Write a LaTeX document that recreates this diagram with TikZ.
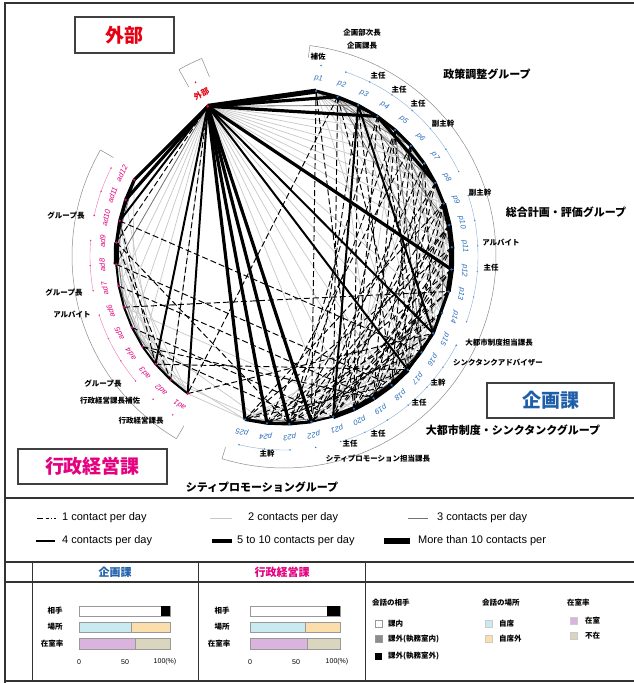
\documentclass[tikz,border=0pt]{standalone}
\usepackage{fontspec}
\setmainfont{Noto Sans CJK JP}
\newfontfamily\lat{Liberation Sans}
\usetikzlibrary{calc}
\definecolor{kblue}{RGB}{31,95,170}
\definecolor{kmag}{RGB}{228,0,127}
\definecolor{kred}{RGB}{230,0,18}
\definecolor{pblue}{RGB}{40,110,190}
\definecolor{bcyan}{RGB}{200,234,240}
\definecolor{borange}{RGB}{252,222,172}
\definecolor{blav}{RGB}{218,180,222}
\definecolor{bkhaki}{RGB}{218,213,190}
\tikzset{
 w1/.style={black, line width=0.95pt, dash pattern=on 6pt off 3pt},
 w2/.style={black!22, line width=0.7pt},
 w3/.style={black!55, line width=0.8pt},
 w4/.style={black, line width=2pt},
 w5/.style={black, line width=3.2pt},
 w6/.style={black, line width=5pt},
 role/.style={font=\fontsize{7.5}{8}\selectfont\bfseries, inner sep=0pt},
 grp/.style={font=\fontsize{11}{12}\selectfont\bfseries, inner sep=0pt},
 plab/.style={font=\lat\itshape\fontsize{7.6}{9}\selectfont, text=pblue, inner sep=0pt},
 alab/.style={font=\lat\itshape\fontsize{7.6}{9}\selectfont, text=kmag, inner sep=0pt},
 titlebox/.style={draw=black!75, line width=1.4pt, inner sep=0pt, font=\fontsize{19}{20}\selectfont\bfseries},
 legtxt/.style={font=\lat\fontsize{11}{12}\selectfont, anchor=west, inner sep=0pt},
 bracket/.style={black!45, line width=0.5pt},
 rowlab/.style={font=\fontsize{7.5}{8}\selectfont\bfseries, inner sep=0pt},
 axlab/.style={font=\lat\fontsize{7}{8}\selectfont, inner sep=0pt},
 bar/.style={draw=black!40, line width=0.4pt},
 frame/.style={black!80, line width=1.4pt},
}
\begin{document}
\begin{tikzpicture}[x=1pt,y=-1pt]
\useasboundingbox (0,0) rectangle (634,683);
\fill[white] (0,0) rectangle (634,683);

% ---------- node positions ----------
\coordinate (ext) at ({284+168*cos(117)},{256-168*sin(117)});
\foreach \i in {1,...,25}{
  \pgfmathsetmacro\ang{79-7.6*(\i-1)}
  \coordinate (p\i) at ({284+168*cos(\ang)},{256-168*sin(\ang)});
}
\foreach \i in {1,...,12}{
  \pgfmathsetmacro\ang{235-7.45*(\i-1)}
  \coordinate (ad\i) at ({284+168*cos(\ang)},{256-168*sin(\ang)});
}

% ---------- edges ----------
\foreach \a/\b in {ext/p4,ext/p5,ext/p6,ext/p7,ext/p8,ext/p9,ext/p10,ext/p11,ext/p14,ext/p16,ext/p18,ext/p19,ext/p20,ext/p21,
  ext/ad2,ext/ad4,ext/ad5,ext/ad6,ext/ad7,
  p1/p5,p1/p7,p1/p9,p1/p11,p1/p13,p2/p6,p2/p10,p2/p12,p3/p7,p3/p9,p3/p11,p3/p14,p4/p10,p4/p12,p5/p9,p5/p13,
  p6/p12,p6/p14,p7/p13,p8/p12,p8/p14,p9/p15,p10/p16,p11/p17,p12/p18,p13/p19,p14/p20,p15/p21,p16/p22,p17/p23,
  p15/p25,p16/p24,p17/p25,p18/p22,p19/p24,p14/p25,p13/p21,p12/p22,p11/p23,p10/p24,
  p1/p17,p2/p19,p3/p16,p5/p20,p7/p21,p1/p4,p2/p5,p6/p9,p7/p10,p8/p11,
  ad1/ad5,ad1/ad7,ad2/ad6,ad2/ad8,ad3/ad7,ad3/ad9,ad4/ad8,ad4/ad10,ad5/ad9,ad6/ad10,ad1/ad9,ad2/ad10,
  ad1/p25,ad2/p24,ad3/p25,ad5/p24,ad6/p20,ad3/ad11,ad5/ad12}
  \draw[w2] (\a) -- (\b);
\foreach \a/\b in {ext/p3,ext/ad8,p1/p6,p2/p8,p4/p8,p9/p14,p15/p18,p17/p20,p21/p24,p22/p25,ad1/ad3,ad4/ad7,
  ad8/ad11,ad9/ad12,p5/p16,p7/p17,p3/p10,p5/p11,p2/p13,ad2/ad5,ad6/ad9}
  \draw[w3] (\a) -- (\b);
\foreach \a/\b in {p1/p22,p2/ad1,ad1/p15,ad5/p21,ad7/p19,ad9/p23,p3/p18,p4/p20,p5/p23,p6/p24,p7/p19,p8/p21,p9/p22,
  p10/p20,p11/p19,p12/p24,p13/p23,p14/p22,p16/p25,p2/p17,p6/p16,p8/p18,p9/p19,p4/p16,p3/p22,p10/p23,p11/p25,
  p12/p21,p5/p19,ad3/p17,ad4/p22,ad6/p13,ext/ad9,
  p1/p20,p2/p21,p3/p20,p4/p23,p5/p21,p6/p20,p7/p22,p8/p23,p9/p25,p10/p22,p11/p21,p12/p20,p13/p22,p14/p24,
  p15/p23,p16/p20,p17/p24,p18/p25,p6/p18,p7/p15,p5/p17,p9/p17,p10/p18,ad10/p16,ad8/p18,ad4/p19,
  ad10/ad3,ad9/ad2,ext/ad2}
  \draw[w1] (\a) -- (\b);
\foreach \a/\b in {ext/p15,ext/p17,ext/ad10,ext/ad3,ext/ad1,p3/p15,p3/p21,p15/p16,p16/p17,
  p21/p22,ad1/ad2,ad2/ad3,ad3/ad4,ad4/ad5,ad5/ad6,ad6/ad7,ad7/ad8,p1/p3,p2/p4,ad10/ad12,ad9/ad11}
  \draw[w4] (\a) -- (\b);
\foreach \a/\b in {ext/p2,ext/p4,ext/p12,ext/p22,ext/p23,ext/p24,ext/p25,ext/ad12,ext/ad11,p1/p2,p2/p3,p3/p4,p4/p5,p5/p6,p6/p7,
  p7/p8,p8/p9,p22/p23,p23/p24,p24/p25,p13/p15,p15/p17,ad9/ad10,ad10/ad11,ad11/ad12,p4/p8}
  \draw[w5] (\a) -- (\b);
\foreach \a/\b in {ext/p1,p9/p10,p10/p11,p11/p12,p12/p13,p17/p18,p18/p19,p19/p20,p20/p21,ad8/ad9}
  \draw[w6] (\a) -- (\b);

% ---------- node dots and labels ----------
\foreach \i in {1,...,25}{
  \pgfmathsetmacro\ang{79-7.6*(\i-1)}
  \fill[pblue] (p\i) circle (1.3);
  \node[plab, rotate=\ang-90] at ({284+181*cos(\ang)},{256-181*sin(\ang)}) {p\i};
  \fill[pblue] ({284+194*cos(\ang)},{256-194*sin(\ang)}) circle (0.8);
}
\foreach \i in {1,...,12}{
  \pgfmathsetmacro\ang{235-7.45*(\i-1)}
  \fill[kmag] (ad\i) circle (1.3);
  \node[alab, rotate=\ang-90] at ({284+182*cos(\ang)},{256-182*sin(\ang)}) {ad\i};
  \fill[kmag] ({284+194*cos(\ang)},{256-194*sin(\ang)}) circle (0.8);
}
\fill[kred] (ext) circle (1.6);
\node[font=\fontsize{8}{9}\selectfont\bfseries, text=kred, rotate=27, inner sep=0pt] at ({284+182*cos(117)},{256-182*sin(117)}) {外部};
\fill[kred] ({284+195*cos(117)},{256-195*sin(117)}) circle (0.8);

% ---------- inner group arcs ----------
\foreach \s/\e in {71.4/25.8, 18.2/-19.8, -27.4/-73, -88.2/-103.4}
  \draw[pblue!55, line width=0.4pt] plot[domain=\s:\e, samples=40] ({284+194*cos(\x)},{256-194*sin(\x)});
\foreach \s/\e in {167.95/153.05, 190.3/175.4, 220.1/197.75}
  \draw[kmag!55, line width=0.4pt] plot[domain=\s:\e, samples=30] ({284+194*cos(\x)},{256-194*sin(\x)});

% ---------- outer brackets ----------
\draw[bracket] plot[domain=83:-107, samples=90] ({284+212*cos(\x)},{256-212*sin(\x)});
\draw[bracket] ({284+212*cos(83)},{256-212*sin(83)}) -- ({284+200*cos(83)},{256-200*sin(83)});
\draw[bracket] ({284+212*cos(-107)},{256-212*sin(-107)}) -- ({284+200*cos(-107)},{256-200*sin(-107)});
\draw[bracket] plot[domain=150:239.5, samples=50] ({284+212*cos(\x)},{256-212*sin(\x)});
\draw[bracket] ({284+212*cos(150)},{256-212*sin(150)}) -- ({284+197*cos(150)},{256-197*sin(150)});
\draw[bracket] ({284+212*cos(239.5)},{256-212*sin(239.5)}) -- ({284+197*cos(239.5)},{256-197*sin(239.5)});
\draw[bracket] plot[domain=112.6:119.4, samples=10] ({284+214*cos(\x)},{256-214*sin(\x)});
\draw[bracket] ({284+214*cos(112.6)},{256-214*sin(112.6)}) -- ({284+194*cos(112.6)},{256-194*sin(112.6)});
\draw[bracket] ({284+214*cos(119.4)},{256-214*sin(119.4)}) -- ({284+194*cos(119.4)},{256-194*sin(119.4)});

% ---------- role labels ----------
\node[role] (r1) at (362,33) {企画部次長};
\node[role] (r2) at (362,46) {企画課長};
\node[role] (r3) at (318,57) {補佐};
\node[role] (r4) at (378,76) {主任};
\node[role] (r5) at (399,90) {主任};
\node[role] (r6) at (418,104) {主任};
\node[role] (r7) at (443,124) {副主幹};
\node[role] (r8) at (480,193) {副主幹};
\node[role] (r9) at (501,243) {アルバイト};
\node[role] (r10) at (491,268) {主任};
\node[role] (r11) at (499,343) {大都市制度担当課長};
\node[role] (r12) at (498,363) {シンクタンクアドバイザー};
\node[role] (r13) at (438,383) {主幹};
\node[role] (r14) at (419,403) {主任};
\node[role] (r15) at (378,434) {主任};
\node[role] (r16) at (350,444) {主任};
\node[role] (r17) at (378,459) {シティプロモーション担当課長};
\node[role] (r18) at (267,454) {主幹};
\node[role] (r19) at (66,216) {グループ長};
\node[role] (r20) at (64,293) {グループ長};
\node[role] (r21) at (72,315) {アルバイト};
\node[role] (r22) at (103,384) {グループ長};
\node[role] (r23) at (110,401) {行政経営課長補佐};
\node[role] (r24) at (141,421) {行政経営課長};

% ---------- group labels ----------
\node[grp] (g1) at (487,74) {政策調整グループ};
\node[grp] (g2) at (566,212) {総合計画・評価グループ};
\node[grp] (g3) at (513,430) {大都市制度・シンクタンクグループ};
\node[grp] (g4) at (262,487) {シティプロモーショングループ};

% ---------- title boxes ----------
\node[titlebox, text=kred, minimum width=99pt, minimum height=36pt] (tb1) at (124.5,35) {外部};
\node[titlebox, text=kblue, minimum width=127pt, minimum height=35pt] (tb2) at (550.5,400.5) {企画課};
\node[titlebox, text=kmag, minimum width=149pt, minimum height=35pt] (tb3) at (92.5,466.5) {行政経営課};

% ---------- frame ----------
\draw[frame] (5,683) -- (5,3) -- (634,3);
\draw[frame] (5,498) -- (634,498);
\draw[frame] (5,562) -- (634,562);
\draw[frame] (5,582) -- (634,582);
\draw[frame] (5,681) -- (634,681);
\draw[black!80, line width=1pt] (32,562) -- (32,681);
\draw[black!80, line width=1pt] (198,562) -- (198,681);
\draw[black!80, line width=1pt] (365,562) -- (365,681);

% ---------- line legend ----------
\coordinate (l1a) at (37,518); \coordinate (l1b) at (56,518);
\coordinate (l2a) at (210,518); \coordinate (l2b) at (232,518);
\coordinate (l3a) at (408,518); \coordinate (l3b) at (428,518);
\coordinate (l4a) at (36,541); \coordinate (l4b) at (55,541);
\coordinate (l5a) at (212,541); \coordinate (l5b) at (232,541);
\coordinate (l6a) at (384,541); \coordinate (l6b) at (410,541);
\draw[black, line width=0.9pt, dash pattern=on 6pt off 2.5pt on 3pt off 2.5pt on 1.2pt off 2pt] (l1a) -- (l1b);
\draw[w2, line width=1pt] (l2a) -- (l2b);
\draw[w3, line width=1pt] (l3a) -- (l3b);
\draw[w4, line width=2.6pt] (l4a) -- (l4b);
\draw[w5, line width=3.6pt] (l5a) -- (l5b);
\draw[w6, line width=6pt] (l6a) -- (l6b);
\node[legtxt] at (62,518) {1 contact per day};
\node[legtxt] at (248,518) {2 contacts per day};
\node[legtxt] at (437,518) {3 contacts per day};
\node[legtxt] at (62,541) {4 contacts per day};
\node[legtxt] at (237,541) {5 to 10 contacts per day};
\node[legtxt] at (418,541) {More than 10 contacts per};

% ---------- table ----------
\node[font=\fontsize{11}{12}\selectfont\bfseries, text=kblue] (h1) at (115,572) {企画課};
\node[font=\fontsize{11}{12}\selectfont\bfseries, text=kmag] (h2) at (282,572) {行政経営課};

% chart 1
\node[rowlab] at (55,611) {相手};
\node[rowlab] at (55,627) {場所};
\node[rowlab] at (52,643.5) {在室率};
\filldraw[bar, fill=white] (79,606) rectangle (170,616);
\fill[black] (161,606) rectangle (170,616);
\filldraw[bar, fill=bcyan] (79,622) rectangle (131,632);
\filldraw[bar, fill=borange] (131,622) rectangle (170,632);
\filldraw[bar, fill=blav] (79,638) rectangle (135,649);
\filldraw[bar, fill=bkhaki] (135,638) rectangle (170,649);
\node[axlab] at (79,662) {0};
\node[axlab] at (125,662) {50};
\node[axlab] at (165,662) {100(\%)};

% chart 2
\node[rowlab] at (222,611) {相手};
\node[rowlab] at (222,627) {場所};
\node[rowlab] at (219,643.5) {在室率};
\filldraw[bar, fill=white] (250,606) rectangle (340,616);
\fill[black] (327,606) rectangle (340,616);
\filldraw[bar, fill=bcyan] (250,622) rectangle (305,632);
\filldraw[bar, fill=borange] (305,622) rectangle (340,632);
\filldraw[bar, fill=blav] (250,638) rectangle (307,649);
\filldraw[bar, fill=bkhaki] (307,638) rectangle (340,649);
\node[axlab] at (250,662) {0};
\node[axlab] at (296,662) {50};
\node[axlab] at (337,662) {100(\%)};

% legend of bars
\node[rowlab, anchor=west] at (372,603) {会話の相手};
\filldraw[draw=black!40, fill=white] (375,620.5) rectangle (382,627.5);
\node[rowlab, anchor=west] at (388,624) {課内};
\filldraw[draw=black!40, fill=black!45] (375,635.5) rectangle (382,642.5);
\node[rowlab, anchor=west] at (388,639) {課外(執務室内)};
\fill[black] (375,652.5) rectangle (382,659.5);
\node[rowlab, anchor=west] at (388,656) {課外(執務室外)};

\node[rowlab, anchor=west] at (482,603) {会話の場所};
\filldraw[draw=black!20, fill=bcyan] (485,620.5) rectangle (492,627.5);
\node[rowlab, anchor=west] at (499,624) {自席};
\filldraw[draw=black!20, fill=borange] (485,635.5) rectangle (492,642.5);
\node[rowlab, anchor=west] at (499,639) {自席外};

\node[rowlab, anchor=west] at (567,603) {在室率};
\filldraw[draw=black!20, fill=blav] (570,617.5) rectangle (577,624.5);
\node[rowlab, anchor=west] at (585,621) {在室};
\filldraw[draw=black!20, fill=bkhaki] (570,632.5) rectangle (577,639.5);
\node[rowlab, anchor=west] at (585,636) {不在};
\end{tikzpicture}
\end{document}
